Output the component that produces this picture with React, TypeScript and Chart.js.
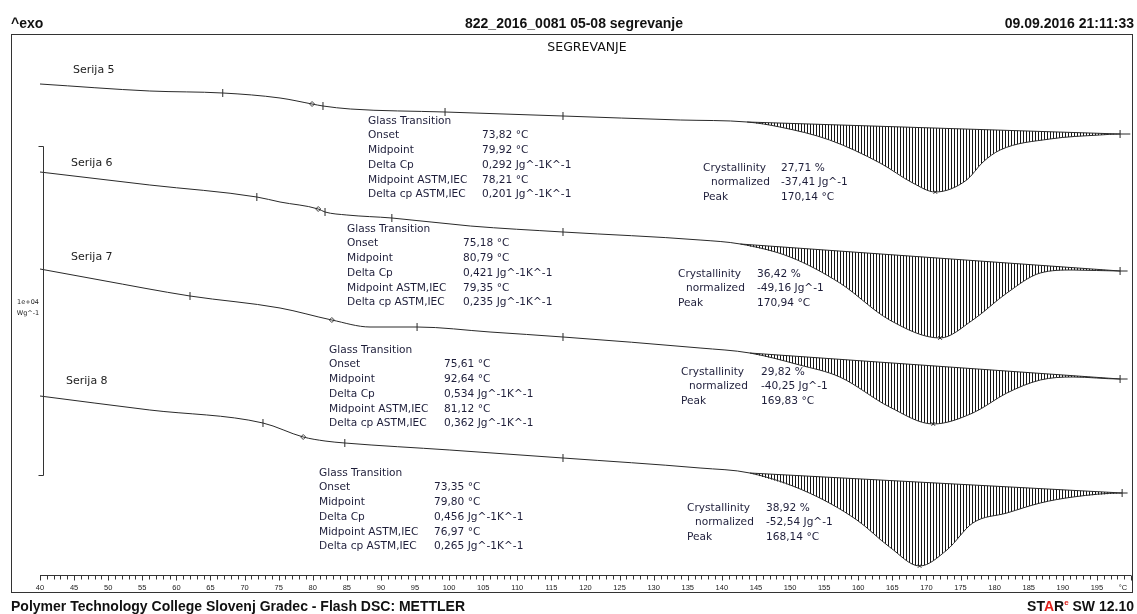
import React, { useEffect, useRef } from "react";
import { Chart, registerables } from "chart.js";

Chart.register(...registerables);

// ---------------- axis ----------------
const X_MIN = 40;
const X_MAX = 200;
const Y_MIN = 0;
const Y_MAX = 54;
const TICK_VALUES = [40, 45, 50, 55, 60, 65, 70, 75, 80, 85, 90, 95, 100, 105, 110, 115, 120, 125, 130, 135, 140, 145, 150, 155, 160, 165, 170, 175, 180, 185, 190, 195, 200];
const TICK_LABELS = ["40", "45", "50", "55", "60", "65", "70", "75", "80", "85", "90", "95", "100", "105", "110", "115", "120", "125", "130", "135", "140", "145", "150", "155", "160", "165", "170", "175", "180", "185", "190", "195", "°C"];

// ---------------- series (temperature °C, displayed heat flow, offset units) ----------------
const SERIES_NAMES = ["Serija 5", "Serija 6", "Serija 7", "Serija 8"];

const S5_T = [40, 56.1, 66.8, 75.2, 79.9, 81.5, 85.5, 99.4, 116.7, 133.9, 143.7, 148.5, 155.8, 163.2, 168.0, 171.3, 175.9, 178.3, 180.8, 188.1, 195.4, 198.4, 199.9];
const S5_Y = [49.1, 48.4, 48.2, 47.7, 47.1, 46.9, 46.6, 46.3, 45.9, 45.5, 45.3, 44.8, 43.5, 41.2, 39.2, 38.3, 39.5, 41.3, 42.5, 43.6, 44.0, 44.1, 44.1];

const S6_T = [40, 56.1, 71.8, 75.2, 80.8, 81.8, 85.0, 91.6, 103.1, 116.7, 136.8, 142.7, 150.0, 157.3, 164.6, 172.0, 176.8, 181.8, 186.7, 191.5, 198.4, 199.5];
const S6_Y = [40.3, 39.0, 37.8, 37.3, 36.6, 36.3, 36.0, 35.7, 34.9, 34.3, 33.5, 33.1, 31.8, 29.2, 25.5, 23.7, 25.5, 28.2, 30.2, 30.5, 30.4, 30.4];

const S7_T = [40, 48.8, 62.0, 75.2, 82.8, 88.4, 95.3, 106.0, 116.7, 136.8, 144.1, 151.4, 157.3, 164.6, 171.0, 176.8, 181.8, 186.7, 191.5, 198.4, 199.5];
const S7_Y = [30.6, 29.5, 27.9, 26.7, 25.5, 24.8, 24.8, 24.3, 23.8, 22.7, 22.2, 21.0, 19.8, 16.8, 15.1, 16.2, 18.2, 19.5, 19.8, 19.6, 19.6];

const S8_T = [40, 56.1, 72.7, 78.6, 81.8, 84.7, 100.1, 116.7, 136.8, 144.1, 152.5, 159.8, 164.6, 169.0, 173.0, 176.8, 181.8, 186.7, 191.5, 198.7, 199.5];
const S8_Y = [17.9, 16.5, 15.2, 13.8, 13.4, 13.2, 12.5, 11.7, 10.7, 10.2, 8.3, 5.5, 2.8, 0.9, 2.5, 5.2, 6.2, 7.2, 7.8, 8.2, 8.2];

// integration baselines (melting peak)
const BASE5_T = [143.7, 198.4];
const BASE5_Y = [45.3, 44.1];
const BASE6_T = [142.7, 198.4];
const BASE6_Y = [33.1, 30.4];
const BASE7_T = [144.1, 198.4];
const BASE7_Y = [22.2, 19.6];
const BASE8_T = [144.1, 198.7];
const BASE8_Y = [10.2, 8.2];

// evaluation limit marks
const LIMITS5_T = [66.8, 81.5, 99.4, 116.7, 198.4];
const LIMITS6_T = [71.8, 81.8, 91.6, 116.7, 198.4];
const LIMITS7_T = [62.0, 95.3, 116.7, 198.4];
const LIMITS8_T = [72.7, 84.7, 116.7, 198.7];
const MIDPOINT_T = [79.9, 80.8, 82.8, 78.6];
const PEAK_T = [171.3, 172.0, 171.0, 169.0];

// ---------------- evaluation results ----------------
const TG_TITLE = "Glass Transition";
const TG_LABELS = ["Onset", "Midpoint", "Delta Cp", "Midpoint ASTM,IEC", "Delta cp ASTM,IEC"];
const TG5 = ["73,82 °C", "79,92 °C", "0,292 Jg^-1K^-1", "78,21 °C", "0,201 Jg^-1K^-1"];
const TG6 = ["75,18 °C", "80,79 °C", "0,421 Jg^-1K^-1", "79,35 °C", "0,235 Jg^-1K^-1"];
const TG7 = ["75,61 °C", "92,64 °C", "0,534 Jg^-1K^-1", "81,12 °C", "0,362 Jg^-1K^-1"];
const TG8 = ["73,35 °C", "79,80 °C", "0,456 Jg^-1K^-1", "76,97 °C", "0,265 Jg^-1K^-1"];
const CR_LABELS = ["Crystallinity", "normalized", "Peak"];
const CR5 = ["27,71 %", "-37,41 Jg^-1", "170,14 °C"];
const CR6 = ["36,42 %", "-49,16 Jg^-1", "170,94 °C"];
const CR7 = ["29,82 %", "-40,25 Jg^-1", "169,83 °C"];
const CR8 = ["38,92 %", "-52,54 Jg^-1", "168,14 °C"];

// ---------------- layout (pixels) ----------------
const LAYOUT = {
  frame: { x: 11.5, y: 34.5, w: 1121, h: 558 },
  names: [[73, 70], [71, 163], [71, 257], [66, 381]],
  tg: [[368, 121, 482], [347, 229, 463], [329, 350, 444], [319, 473, 434]],
  cr: [[703, 168, 781], [678, 274, 757], [681, 372, 761], [687, 508, 766]],
  rowGap: 14.7,
  crGap: 14.6,
  scaleBar: { x: 43.5, y1: 146, y2: 475 },
  lastLabelShift: -8,
};

const SERIES = [
  { t: S5_T, y: S5_Y, bt: BASE5_T, by: BASE5_Y, lim: LIMITS5_T, tg: TG5, cr: CR5 },
  { t: S6_T, y: S6_Y, bt: BASE6_T, by: BASE6_Y, lim: LIMITS6_T, tg: TG6, cr: CR6 },
  { t: S7_T, y: S7_Y, bt: BASE7_T, by: BASE7_Y, lim: LIMITS7_T, tg: TG7, cr: CR7 },
  { t: S8_T, y: S8_Y, bt: BASE8_T, by: BASE8_Y, lim: LIMITS8_T, tg: TG8, cr: CR8 },
];

const LINE = "#2a2a2a";
const TEXT = "#1e1e3a";
const ANN_FONT = '10.6px "DejaVu Sans"';

function pts(t: number[], y: number[]) {
  return t.map((x, i) => ({ x, y: y[i] }));
}
function interp(t: number[], y: number[], x: number) {
  for (let i = 0; i < t.length - 1; i++) {
    if (x >= t[i] && x <= t[i + 1]) {
      const f = (x - t[i]) / (t[i + 1] - t[i] || 1);
      return y[i] + f * (y[i + 1] - y[i]);
    }
  }
  return y[y.length - 1];
}

export default function App() {
  const ref = useRef<HTMLCanvasElement>(null);

  useEffect(() => {
    const canvas = ref.current!;
    const pc = document.createElement("canvas");
    pc.width = 3;
    pc.height = 1;
    const pctx = pc.getContext("2d")!;
    pctx.fillStyle = "#151515";
    pctx.fillRect(0, 0, 1, 1);
    const pattern = canvas.getContext("2d")!.createPattern(pc, "repeat")!;

    const datasets: any[] = [];
    SERIES.forEach((s, i) => {
      datasets.push({
        label: SERIES_NAMES[i],
        data: pts(s.t, s.y),
        borderColor: LINE,
        borderWidth: 1,
        pointRadius: 0,
        cubicInterpolationMode: "monotone",
        fill: false,
      });
      const baseIndex = datasets.length;
      datasets.push({
        label: SERIES_NAMES[i] + " baseline",
        data: pts(s.bt, s.by),
        borderColor: LINE,
        borderWidth: 1,
        pointRadius: 0,
        tension: 0,
        fill: false,
      });
      const hatchT = s.t.filter((x) => x >= s.bt[0] && x <= s.bt[1]);
      datasets.push({
        label: SERIES_NAMES[i] + " area",
        data: hatchT.map((x) => ({ x, y: interp(s.t, s.y, x) })),
        borderColor: "rgba(0,0,0,0)",
        borderWidth: 0,
        pointRadius: 0,
        cubicInterpolationMode: "monotone",
        fill: { target: baseIndex },
        backgroundColor: pattern,
      });
      datasets.push({
        label: SERIES_NAMES[i] + " limits",
        data: s.lim.map((x) => ({ x, y: interp(s.t, s.y, x) })),
        showLine: false,
        pointStyle: "line",
        rotation: 90,
        pointRadius: 4,
        pointBorderColor: LINE,
        pointBorderWidth: 1,
      });
      datasets.push({
        label: SERIES_NAMES[i] + " midpoint",
        data: [{ x: MIDPOINT_T[i], y: interp(s.t, s.y, MIDPOINT_T[i]) }],
        showLine: false,
        pointStyle: "rectRot",
        pointRadius: 2.5,
        pointBackgroundColor: "#ffffff",
        pointBorderColor: "#444",
        pointBorderWidth: 1,
      });
      datasets.push({
        label: SERIES_NAMES[i] + " peak",
        data: [{ x: PEAK_T[i], y: interp(s.t, s.y, PEAK_T[i]) }],
        showLine: false,
        pointStyle: "crossRot",
        pointRadius: 2.5,
        pointBorderColor: LINE,
        pointBorderWidth: 1,
      });
    });

    const decor = {
      id: "decor",
      beforeDraw(chart: any) {
        const c = chart.ctx;
        c.save();
        c.fillStyle = "#ffffff";
        c.fillRect(0, 0, chart.width, chart.height);
        c.restore();
      },
      afterDraw(chart: any) {
        const c = chart.ctx as CanvasRenderingContext2D;
        const xs = chart.scales.x;
        const area = chart.chartArea;
        c.save();
        // frame
        c.strokeStyle = "#333";
        c.lineWidth = 1;
        const f = LAYOUT.frame;
        c.strokeRect(f.x, f.y, f.w, f.h);

        // x axis
        const yAxis = Math.round(area.bottom) + 0.5;
        c.beginPath();
        c.moveTo(xs.getPixelForValue(X_MIN), yAxis);
        c.lineTo(xs.getPixelForValue(X_MAX), yAxis);
        for (let v = X_MIN; v <= X_MAX; v++) {
          const px = Math.round(xs.getPixelForValue(v)) + 0.5;
          c.moveTo(px, yAxis);
          c.lineTo(px, yAxis + (v % 5 === 0 ? 5 : 4));
        }
        c.stroke();
        c.fillStyle = "#222";
        c.font = '7.5px "Liberation Sans"';
        c.textAlign = "center";
        c.textBaseline = "middle";
        TICK_VALUES.forEach((v, i) => {
          const shift = i === TICK_VALUES.length - 1 ? LAYOUT.lastLabelShift : 0;
          c.fillText(TICK_LABELS[i], xs.getPixelForValue(v) + shift, yAxis + 12);
        });

        // scale bar
        const sb = LAYOUT.scaleBar;
        c.beginPath();
        c.moveTo(sb.x - 5, sb.y1 + 0.5);
        c.lineTo(sb.x, sb.y1 + 0.5);
        c.lineTo(sb.x, sb.y2 + 0.5);
        c.lineTo(sb.x - 5, sb.y2 + 0.5);
        c.stroke();
        c.font = '6.5px "DejaVu Sans"';
        c.fillText("1e+04", 28, 302);
        c.fillText("Wg^-1", 28, 313);

        // inner title
        c.font = '12.5px "DejaVu Sans"';
        c.fillStyle = "#111";
        c.fillText("SEGREVANJE", 587, 48);

        // series names
        c.textAlign = "left";
        c.font = '11px "DejaVu Sans"';
        c.fillStyle = "#222";
        SERIES_NAMES.forEach((n, i) => {
          c.fillText(n, LAYOUT.names[i][0], LAYOUT.names[i][1]);
        });

        // annotations
        c.font = ANN_FONT;
        c.fillStyle = TEXT;
        SERIES.forEach((s, i) => {
          const [tx, ty, vx] = LAYOUT.tg[i];
          c.fillText(TG_TITLE, tx, ty);
          TG_LABELS.forEach((l, k) => {
            const yy = ty + (k + 1) * LAYOUT.rowGap;
            c.fillText(l, tx, yy);
            c.fillText(s.tg[k], vx, yy);
          });
          const [cx, cy, cvx] = LAYOUT.cr[i];
          CR_LABELS.forEach((l, k) => {
            const yy = cy + k * LAYOUT.crGap;
            c.fillText(l, cx + (k === 1 ? 8 : 0), yy);
            c.fillText(s.cr[k], cvx, yy);
          });
        });
        c.restore();
      },
    };

    const chart = new Chart(canvas, {
      type: "line",
      data: { datasets },
      options: {
        animation: false,
        responsive: false,
        devicePixelRatio: 1,
        events: [],
        layout: { padding: { left: 40, right: 6, top: 35, bottom: 39 } },
        scales: {
          x: { type: "linear", min: X_MIN, max: X_MAX, display: false },
          y: { type: "linear", min: Y_MIN, max: Y_MAX, display: false },
        },
        plugins: { legend: { display: false }, tooltip: { enabled: false } },
      } as any,
      plugins: [decor],
    });
    return () => chart.destroy();
  }, []);

  const bold: React.CSSProperties = {
    position: "absolute",
    font: 'bold 14px "Liberation Sans", Arial, sans-serif',
    lineHeight: "16px",
    height: 16,
    color: "#111",
    whiteSpace: "nowrap",
  };

  return (
    <div style={{ position: "fixed", left: 0, top: 0, width: 1137, height: 614, background: "#fff", overflow: "hidden" }}>
      <canvas ref={ref} width={1137} height={614} style={{ position: "absolute", left: 0, top: 0, width: 1137, height: 614 }} />
      <div style={{ ...bold, left: 11, top: 15 }}>^exo</div>
      <div style={{ ...bold, left: 574, top: 15, transform: "translateX(-50%)" }}>822_2016_0081 05-08 segrevanje</div>
      <div style={{ ...bold, right: 3, top: 15 }}>09.09.2016 21:11:33</div>
      <div style={{ ...bold, left: 11, top: 598 }}>Polymer Technology College Slovenj Gradec - Flash DSC: METTLER</div>
      <div style={{ ...bold, right: 3, top: 598 }}>
        ST<span style={{ color: "#e0201b" }}>A</span>R
        <span style={{ color: "#e0201b", fontSize: 8, lineHeight: "8px", position: "relative", top: -6 }}>e</span> SW 12.10
      </div>
    </div>
  );
}
